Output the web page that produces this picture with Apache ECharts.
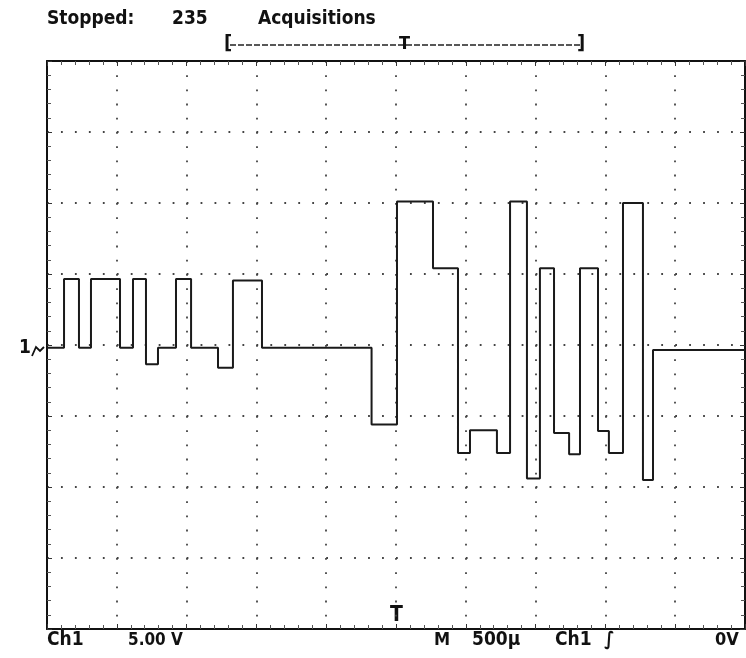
<!DOCTYPE html>
<html>
<head>
<meta charset="utf-8">
<script src="https://cdn.jsdelivr.net/npm/echarts@6/dist/echarts.min.js"></script>
<style>
  html, body { margin: 0; padding: 0; background: #fff; }
  #chart { width: 746px; height: 658px; }
</style>
</head>
<body>
<div id="chart"></div>
<script>
// time of each edge (µs from left of screen) and the level held after it (V)
var edgeTimes = [0, 122, 229, 315, 523, 616, 709, 795, 924, 1032, 1225, 1332, 1540,
  2325, 2507, 2765, 2944, 3030, 3223, 3317, 3438, 3531, 3632, 3740, 3818, 3947,
  4025, 4126, 4269, 4341];
var levels = [-0.2, 4.65, -0.2, 4.65, -0.2, 4.65, -1.35, -0.2, 4.65, -0.2, -1.6, 4.55, -0.2,
  -5.6, 10.1, 5.4, -7.6, -6.0, -7.6, 10.1, -9.4, 5.4, -6.2, -7.7, 5.4, -6.05,
  -7.6, 10.0, -9.5, -0.35];
var sweepEnd = 5000;   // 10 div x 500 µs
var voltsPerDiv = 5;   // 8 div vertical

var trace = edgeTimes.map(function (t, i) { return [t, levels[i]]; });
trace.push([sweepEnd, levels[levels.length - 1]]);

var font = 'DejaVu Sans Condensed';
var chart = echarts.init(document.getElementById('chart'));

function dotLine(gap) {
  return { show: true, lineStyle: { color: '#444', width: 1.8, type: [1.8, gap] } };
}
var xCommon = {
  type: 'value', min: 0, max: sweepEnd, interval: 500,
  axisLabel: { show: false },
  axisLine: { show: true, onZero: false, lineStyle: { color: '#111', width: 2 } },
  axisTick: { show: true, inside: true, length: 5, lineStyle: { color: '#333' } },
  minorTick: { show: true, splitNumber: 5, length: 4, lineStyle: { color: '#555' } }
};
var yCommon = {
  type: 'value', min: -4 * voltsPerDiv, max: 4 * voltsPerDiv, interval: voltsPerDiv,
  axisLabel: { show: false },
  axisLine: { show: true, onZero: false, lineStyle: { color: '#111', width: 2 } },
  axisTick: { show: true, inside: true, length: 5, lineStyle: { color: '#333' } },
  minorTick: { show: true, splitNumber: 5, length: 4, lineStyle: { color: '#555' } }
};

var option = {
  animation: false,
  backgroundColor: '#fff',
  grid: { left: 47, right: 1, top: 61, height: 568 },
  xAxis: [
    Object.assign({}, xCommon, { position: 'bottom', splitLine: dotLine(12.4) }),
    Object.assign({}, xCommon, { position: 'top', splitLine: { show: false } })
  ],
  yAxis: [
    Object.assign({}, yCommon, { position: 'left', splitLine: dotLine(12.16) }),
    Object.assign({}, yCommon, { position: 'right', splitLine: { show: false } })
  ],
  series: [{
    type: 'line',
    step: 'end',
    data: trace,
    symbol: 'none',
    lineStyle: { color: '#1a1a1a', width: 2 }
  }],
  graphic: [
    { type: 'text', left: 47, top: 10, style: { text: 'Stopped:', font: 'bold 19px "' + font + '"', fill: '#111' } },
    { type: 'text', left: 172, top: 10, style: { text: '235', font: 'bold 19px "' + font + '"', fill: '#111' } },
    { type: 'text', left: 258, top: 10, style: { text: 'Acquisitions', font: 'bold 19px "' + font + '"', fill: '#111' } },
    // record-window bracket
    { type: 'text', left: 224, top: 34, style: { text: '[', font: 'bold 20px "' + font + '"', fill: '#111' } },
    { type: 'line', shape: { x1: 230, y1: 45, x2: 580, y2: 45 }, style: { stroke: '#222', lineWidth: 1.4, lineDash: [6, 2] } },
    { type: 'text', left: 399, top: 35, style: { text: 'T', font: 'bold 18px "' + font + '"', fill: '#111' } },
    { type: 'text', left: 577, top: 34, style: { text: ']', font: 'bold 20px "' + font + '"', fill: '#111' } },
    // ground marker
    { type: 'text', left: 19, top: 339, style: { text: '1', font: 'bold 19px "' + font + '"', fill: '#111' } },
    { type: 'polyline', shape: { points: [[32, 356], [36, 347], [40, 351], [44, 347]] }, style: { stroke: '#111', lineWidth: 1.8, fill: null } },
    // trigger position
    { type: 'text', left: 390, top: 605, style: { text: 'T', font: 'bold 21px "' + font + '"', fill: '#111' } },
    // readouts
    { type: 'text', left: 47, top: 631, style: { text: 'Ch1', font: 'bold 19px "' + font + '"', fill: '#111' } },
    { type: 'text', left: 128, top: 632, style: { text: '5.00 V', font: 'bold 17px "' + font + '"', fill: '#111' } },
    { type: 'text', left: 434, top: 631, style: { text: 'M', font: 'bold 18px "' + font + '"', fill: '#111' } },
    { type: 'text', left: 472, top: 631, style: { text: '500µ', font: 'bold 19px "' + font + '"', fill: '#111' } },
    { type: 'text', left: 555, top: 631, style: { text: 'Ch1', font: 'bold 19px "' + font + '"', fill: '#111' } },
    { type: 'text', left: 604, top: 631, style: { text: '\u222B', font: 'bold 19px "' + font + '"', fill: '#111' } },
    { type: 'text', left: 715, top: 631, style: { text: '0V', font: 'bold 18px "' + font + '"', fill: '#111' } }
  ]
};
chart.setOption(option);
</script>
</body>
</html>
